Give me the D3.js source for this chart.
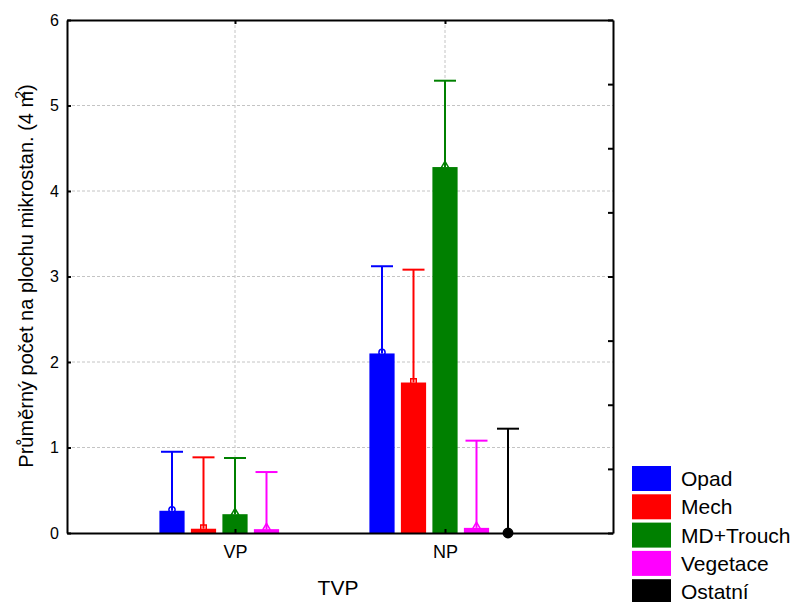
<!DOCTYPE html>
<html>
<head>
<meta charset="utf-8">
<script src="https://cdn.jsdelivr.net/npm/d3@7"></script>
<style>
  body { margin: 0; background: #fff; }
  svg { font-family: Arial, "Liberation Sans", sans-serif; }
</style>
</head>
<body>
<script>
// data
const categories = ["VP", "NP"]
const series = ["Opad", "Mech", "MD+Trouch", "Vegetace", "Ostatní"]
const meanVP = [0.26, 0.05, 0.22, 0.045, 0]
const meanNP = [2.10, 1.76, 4.28, 0.06, 0]
const upperVP = [0.95, 0.885, 0.877, 0.713, 0]
const upperNP = [3.12, 3.08, 5.29, 1.08, 1.22]
const yTicks = [0, 1, 2, 3, 4, 5, 6]
const colors = ["#0000ff", "#ff0000", "#008000", "#ff00ff", "#000000"]

const means = { VP: meanVP, NP: meanNP }
const uppers = { VP: upperVP, NP: upperNP }

const w = 795
const h = 602
const pLeft = 67, pRight = 613, pTop = 20, pBottom = 533

const svg = d3.select("body")
              .append("svg")
              .attr("width", w)
              .attr("height", h)

const xScale = d3.scalePoint()
                 .domain(categories)
                 .range([pLeft, pRight])
                 .padding(0.8)
const subScale = d3.scaleBand()
                   .domain(series)
                   .range([-78.75, 78.75])
                   .paddingInner(0.2)
                   .paddingOuter(0.1)
const yScale = d3.scaleLinear()
                 .domain([0, 6])
                 .range([pBottom, pTop])
const yRight = d3.scaleLinear()
                 .domain([0, 8])
                 .range([pBottom, pTop])
const color = d3.scaleOrdinal().domain(series).range(colors)

// grid
const grid = svg.append("g")
grid.selectAll("line.h")
    .data(yTicks.slice(1, -1))
    .enter()
    .append("line")
    .attr("x1", pLeft).attr("x2", pRight)
    .attr("y1", d => yScale(d)).attr("y2", d => yScale(d))
grid.selectAll("line.v")
    .data(categories)
    .enter()
    .append("line")
    .attr("x1", d => xScale(d)).attr("x2", d => xScale(d))
    .attr("y1", pTop).attr("y2", pBottom)
grid.selectAll("line")
    .attr("stroke", "#c4c4c4")
    .attr("stroke-width", 1)
    .attr("stroke-dasharray", "3,2")

// rows for bars
const rows = []
categories.forEach(c => {
    series.forEach((s, i) => {
        rows.push({ cat: c, s: s, i: i, mean: means[c][i], up: uppers[c][i] })
    })
})
const bw = subScale.bandwidth()
const cx = d => xScale(d.cat) + subScale(d.s) + bw / 2

svg.append("g")
   .selectAll("rect")
   .data(rows.filter(d => d.mean > 0))
   .enter()
   .append("rect")
   .attr("x", d => xScale(d.cat) + subScale(d.s))
   .attr("y", d => yScale(d.mean))
   .attr("width", bw)
   .attr("height", d => yScale(0) - yScale(d.mean))
   .attr("fill", d => color(d.s))

// error bars
const err = svg.append("g")
               .selectAll("g")
               .data(rows.filter(d => d.up > 0))
               .enter()
               .append("g")
               .attr("stroke", d => color(d.s))
               .attr("stroke-width", 2)
err.append("line")
   .attr("x1", cx).attr("x2", cx)
   .attr("y1", d => yScale(d.mean)).attr("y2", d => yScale(d.up))
err.append("line")
   .attr("x1", d => cx(d) - 11).attr("x2", d => cx(d) + 11)
   .attr("y1", d => yScale(d.up)).attr("y2", d => yScale(d.up))

// point markers on the means
const shapes = [d3.symbolCircle, d3.symbolSquare, d3.symbolTriangle, d3.symbolTriangle, d3.symbolCircle]
svg.append("g")
   .selectAll("path")
   .data(rows.filter(d => d.up > 0))
   .enter()
   .append("path")
   .attr("transform", d => "translate(" + cx(d) + "," + (yScale(d.mean) - (d.i == 4 ? 0 : 1)) + ")")
   .attr("d", d => d3.symbol().type(shapes[d.i]).size(d.i == 4 ? 70 : 30)())
   .attr("fill", d => d.i == 4 ? "#000" : "none")
   .attr("stroke", d => color(d.s))
   .attr("stroke-width", 1.5)

// axes
const yAxis = d3.axisLeft(yScale)
                .tickValues(yTicks)
                .tickFormat(d3.format("d"))
                .tickSizeInner(-4)
                .tickSizeOuter(0)
                .tickPadding(8)
const xAxis = d3.axisBottom(xScale)
                .tickSizeInner(-4)
                .tickSizeOuter(0)
                .tickPadding(12)
const topAxis = d3.axisTop(xScale)
                  .tickSizeInner(-4)
                  .tickSizeOuter(0)
                  .tickFormat("")
const rightAxis = d3.axisRight(yRight)
                    .ticks(8)
                    .tickSizeInner(-5)
                    .tickSizeOuter(0)
                    .tickFormat("")

const gy = svg.append("g").attr("transform", "translate(" + pLeft + ",0)").call(yAxis)
const gx = svg.append("g").attr("transform", "translate(0," + pBottom + ")").call(xAxis)
svg.append("g").attr("transform", "translate(0," + pTop + ")").call(topAxis)
svg.append("g").attr("transform", "translate(" + pRight + ",0)").call(rightAxis)

svg.selectAll(".domain, .tick line")
   .attr("stroke", "#000")
   .attr("stroke-width", 2)
svg.selectAll(".tick text")
   .attr("fill", "#000")
   .style("font-family", "Arial, 'Liberation Sans', sans-serif")
gy.selectAll(".tick text").style("font-size", "16px")
gx.selectAll(".tick text").style("font-size", "18px")

// axis titles
svg.append("text")
   .attr("x", 338)
   .attr("y", 595)
   .attr("text-anchor", "middle")
   .style("font-size", "21px")
   .text("TVP")

const yl = svg.append("text")
              .attr("transform", "translate(33,276) rotate(-90)")
              .attr("text-anchor", "middle")
              .style("font-size", "20px")
yl.append("tspan").text("Průměrný počet na plochu mikrostan. (4 m")
yl.append("tspan").attr("dx", -8).attr("dy", -8).style("font-size", "14px").text("2")
yl.append("tspan").attr("dy", 8).text(")")

// legend
const legend = svg.append("g")
                  .selectAll("g")
                  .data(series)
                  .enter()
                  .append("g")
                  .attr("transform", (d, i) => "translate(632," + (466 + i * 28.3) + ")")
legend.append("rect")
      .attr("width", 39)
      .attr("height", 25)
      .attr("fill", d => color(d))
legend.append("text")
      .attr("x", 49)
      .attr("y", 20)
      .style("font-size", "21px")
      .text(d => d)
</script>
</body>
</html>
